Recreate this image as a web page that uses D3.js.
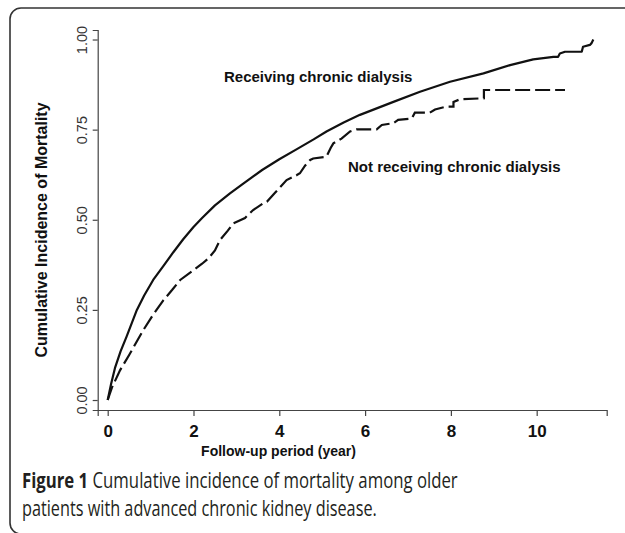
<!DOCTYPE html>
<html>
<head>
<meta charset="utf-8">
<script src="https://cdn.jsdelivr.net/npm/d3@7"></script>
<style>
  html, body { margin: 0; padding: 0; background: #fff; }
  svg { display: block; }
</style>
</head>
<body>
<svg id="chart" width="625" height="533"></svg>
<script>
// ---- data ----
const xTicks = [0, 2, 4, 6, 8, 10];
const yTicks = [0, 0.25, 0.5, 0.75, 1];

// Receiving chronic dialysis (solid)
const dialysisTime = [0, 0.08, 0.17, 0.3, 0.44, 0.68, 0.85, 1.06, 1.3, 1.53, 1.76, 2.0, 2.2, 2.5, 2.85, 3.2, 3.6, 4.0, 4.41, 4.8, 5.1, 5.5, 5.88, 6.66, 7.28, 7.98, 8.76, 9.38, 9.92, 10.39, 10.5, 10.54, 10.66, 11.05, 11.08, 11.24, 11.28, 11.32];
const dialysisCif  = [0, 0.045, 0.089, 0.135, 0.176, 0.25, 0.29, 0.333, 0.372, 0.41, 0.446, 0.48, 0.505, 0.54, 0.573, 0.604, 0.638, 0.668, 0.696, 0.723, 0.745, 0.77, 0.791, 0.827, 0.855, 0.883, 0.906, 0.929, 0.945, 0.952, 0.952, 0.961, 0.966, 0.966, 0.98, 0.985, 0.99, 1.0];

// Not receiving chronic dialysis (dashed)
const noDialysisTime = [0, 0.1, 0.29, 0.5, 0.83, 1.05, 1.3, 1.5, 1.69, 2.0, 2.2, 2.35, 2.5, 2.62, 2.8, 2.93, 3.2, 3.39, 3.63, 3.71, 3.9, 4.17, 4.41, 4.48, 4.6, 4.72, 4.79, 5.1, 5.2, 5.26, 5.45, 5.65, 5.8, 6.27, 6.39, 6.66, 6.77, 7.09, 7.16, 7.51, 7.63, 7.9, 8.06, 8.06, 8.21, 8.77, 8.77, 10.66];
const noDialysisCif  = [0, 0.035, 0.083, 0.125, 0.194, 0.235, 0.277, 0.305, 0.333, 0.36, 0.378, 0.393, 0.415, 0.444, 0.47, 0.49, 0.505, 0.527, 0.546, 0.55, 0.575, 0.61, 0.624, 0.629, 0.65, 0.666, 0.67, 0.675, 0.70, 0.712, 0.725, 0.745, 0.751, 0.751, 0.763, 0.768, 0.777, 0.781, 0.797, 0.797, 0.806, 0.814, 0.814, 0.827, 0.834, 0.837, 0.86, 0.86];

const seriesLabels = ["Receiving chronic dialysis", "Not receiving chronic dialysis"];
const yTitle = "Cumulative Incidence of Mortality";
const xTitle = "Follow-up period (year)";
const captionBold = "Figure 1";
const captionLine1 = " Cumulative incidence of mortality among older";
const captionLine2 = "patients with advanced chronic kidney disease.";

// ---- drawing ----
const svg = d3.select("#chart");
const axisColor = "#444";

// frame
svg.append("path")
  .attr("d", "M640,8 H21 A11 11 0 0 0 10 19 V523 A11 11 0 0 0 21 534 H640")
  .attr("fill", "none")
  .attr("stroke", "#333")
  .attr("stroke-width", 1.6);

const x = d3.scaleLinear().domain([-0.2331, 11.632]).range([97.7, 606.7]);
const y = d3.scaleLinear().domain([-0.0277, 1.0264]).range([410, 30]);

// x axis
const gx = svg.append("g").attr("transform", "translate(0,410)")
  .call(d3.axisBottom(x).tickValues(xTicks).tickSizeOuter(0).tickSize(6).tickFormat(d3.format("d")));
gx.select(".domain").attr("stroke", axisColor).attr("stroke-width", 1.2);
gx.selectAll(".tick line").attr("stroke", axisColor).attr("stroke-width", 1.2);
gx.selectAll(".tick text")
  .attr("y", 27).attr("dy", 0)
  .attr("font-family", "Liberation Sans, Arial, sans-serif")
  .attr("font-weight", "bold").attr("font-size", 17).attr("fill", "#111");

// y axis
const gy = svg.append("g").attr("transform", "translate(97.7,0)")
  .call(d3.axisLeft(y).tickValues(yTicks).tickSizeOuter(0).tickSize(5).tickFormat(d3.format(".2f")));
gy.select(".domain").attr("stroke", axisColor).attr("stroke-width", 1.2);
gy.selectAll(".tick line").attr("stroke", axisColor).attr("stroke-width", 1.2);
gy.selectAll(".tick text")
  .attr("transform", "rotate(-90)")
  .attr("x", 0).attr("y", -11).attr("dy", 0)
  .attr("text-anchor", "middle")
  .attr("font-family", "Liberation Sans, Arial, sans-serif")
  .attr("font-size", 14.5).attr("fill", "#333");

// lines
const line = d3.line().x(d => x(d[0])).y(d => y(d[1]));
const solidData = dialysisTime.map((t, i) => [t, dialysisCif[i]]);
const dashedData = noDialysisTime.map((t, i) => [t, noDialysisCif[i]]);

svg.append("path").datum(solidData)
  .attr("d", line).attr("fill", "none")
  .attr("stroke", "#111").attr("stroke-width", 2.2)
  .attr("stroke-linejoin", "round");

svg.append("path").datum(dashedData)
  .attr("d", line).attr("fill", "none")
  .attr("stroke", "#111").attr("stroke-width", 2.2)
  .attr("stroke-dasharray", "15,5");

// annotations
const labelFont = "Liberation Sans, Arial, sans-serif";
svg.append("text").attr("x", 224).attr("y", 82)
  .attr("font-family", labelFont).attr("font-weight", "bold").attr("font-size", 15)
  .attr("fill", "#111").text(seriesLabels[0]);
svg.append("text").attr("x", 348).attr("y", 172)
  .attr("font-family", labelFont).attr("font-weight", "bold").attr("font-size", 15)
  .attr("fill", "#111").text(seriesLabels[1]);

// axis titles
svg.append("text").attr("x", 278.5).attr("y", 456)
  .attr("text-anchor", "middle")
  .attr("font-family", labelFont).attr("font-weight", "bold").attr("font-size", 14)
  .attr("fill", "#111").text(xTitle);
svg.append("text")
  .attr("transform", "translate(47,230) rotate(-90)")
  .attr("text-anchor", "middle")
  .attr("font-family", labelFont).attr("font-weight", "bold").attr("font-size", 16)
  .attr("fill", "#111").text(yTitle);

// caption (condensed horizontally to match the narrow caption face)
const capFont = "Open Sans, Noto Sans, sans-serif";
function captionLine(yPos, targetWidth, parts) {
  const t = svg.append("text")
    .attr("font-family", capFont).attr("font-size", 21)
    .attr("fill", "#231f20").attr("x", 0).attr("y", 0);
  parts.forEach(p => t.append("tspan").attr("font-weight", p.bold ? "bold" : "normal").text(p.text));
  const w = t.node().getComputedTextLength();
  t.attr("transform", `translate(22,${yPos}) scale(${targetWidth / w},1)`);
}
captionLine(488, 436, [{text: captionBold, bold: true}, {text: captionLine1, bold: false}]);
captionLine(516, 355, [{text: captionLine2, bold: false}]);
</script>
</body>
</html>
